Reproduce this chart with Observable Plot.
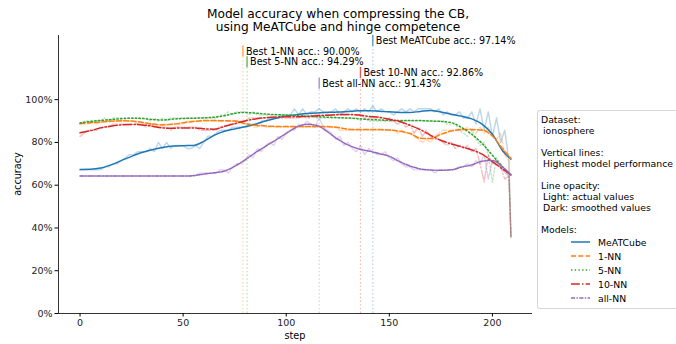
<!DOCTYPE html>
<html>
<head>
<meta charset="utf-8">
<script src="https://cdn.jsdelivr.net/npm/d3@7"></script>
<script src="https://cdn.jsdelivr.net/npm/@observablehq/plot@0.6"></script>
<style>
html,body{margin:0;padding:0;background:#fff;}
#fig{position:relative;width:676px;height:344px;overflow:hidden;font-family:"DejaVu Sans",sans-serif;color:#000;}
#chart{position:absolute;left:0;top:0;}
.t{position:absolute;white-space:pre;font-size:9.7px;line-height:11px;color:#000;}
.lg{font-size:9.3px;}
#title{position:absolute;left:0;top:8px;width:676px;text-align:center;font-size:12.2px;line-height:13px;}
#legend{position:absolute;left:537px;top:110px;width:170px;height:197px;border:1px solid rgba(204,204,204,0.8);border-radius:3px;background:rgba(255,255,255,0.8);}
#ylab{left:17px;top:174px;transform:translate(-50%,-50%) rotate(-90deg);}
</style>
</head>
<body>
<div id="fig">
  <div id="chart"></div>
  <div id="title">Model accuracy when compressing the CB,<br>using MeATCube and hinge competence</div>
  <div class="t" style="left:0;width:590px;text-align:center;top:330px;">step</div>
  <div class="t" id="ylab">accuracy</div>
  <div id="legend"></div>
</div>
<script>
// ---------- data ----------
const models = ["MeATCube", "1-NN", "5-NN", "10-NN", "all-NN"];
const colors = ["#1f77b4", "#ff7f0e", "#2ca02c", "#d62728", "#9467bd"];
const dashes = [null, "5.1,2.2", "1.4,2.3", "8.8,2.2,1.4,2.2", "4.1,1.4,1.4,1.4"];

const xTicks = [0, 50, 100, 150, 200];
const yTicks = [0, 0.2, 0.4, 0.6, 0.8, 1.0];

// best accuracy annotations
const bestStep = [142, 79, 81, 136, 116];
const bestAcc = [97.14, 90.00, 94.29, 92.86, 91.43];

// smoothed values (%, dark lines)
const smoothSteps = [0,5,10,15,20,25,30,35,40,45,50,55,60,65,70,75,80,85,90,95,100,105,110,115,120,125,130,135,140,145,150,155,160,165,170,175,180,185,190,195,200,205,209];
const meatSmooth = [67.3,67.4,68.0,69.5,71.5,73.5,75.3,76.6,77.6,78.3,78.5,78.6,80.5,83.3,85.2,86.3,87.3,88.5,90.0,91.3,92.3,93.0,93.5,93.8,94.0,94.2,94.5,94.8,94.8,94.6,94.3,94.0,94.0,94.5,94.9,94.2,93.2,92.3,91.0,88.6,83.8,76.0,72.2];
const nn1Smooth = [88.9,89.2,89.5,89.9,90.1,90.0,89.4,88.6,88.2,88.5,89.2,89.8,90.2,90.2,90.1,90.0,88.8,88.0,87.7,87.5,87.5,87.5,87.5,87.5,87.4,87.0,86.2,86.0,86.0,86.0,85.8,85.2,84.2,82.0,81.8,83.8,85.3,86.0,86.0,85.8,83.0,77.0,72.5];
const nn5Smooth = [89.1,89.8,90.3,90.7,91.1,91.3,91.2,90.7,90.5,90.9,91.2,91.3,91.5,91.8,92.5,93.6,94.0,93.7,93.3,93.0,92.8,92.5,92.2,92.0,91.8,91.6,91.4,91.1,90.7,90.5,90.3,90.2,90.2,90.2,90.0,89.8,89.3,87.0,83.8,79.5,74.0,68.5,64.8];
const nn10Smooth = [84.5,85.5,86.8,87.6,88.2,88.4,88.2,87.6,86.8,86.6,86.8,86.8,86.4,86.2,87.5,88.8,90.0,91.0,91.6,91.9,92.0,92.0,92.2,92.5,92.7,93.0,93.1,92.8,92.2,91.8,90.8,89.8,88.0,86.0,83.3,81.0,79.3,78.0,76.5,74.5,71.0,67.5,64.8];
const allSmooth = [64.3,64.3,64.3,64.3,64.3,64.3,64.3,64.3,64.3,64.3,64.3,64.5,65.2,65.8,66.6,68.8,71.8,75.2,78.2,81.2,84.2,87.2,88.5,87.9,85.0,81.5,78.8,77.0,76.0,74.8,73.5,71.0,69.0,67.6,67.1,67.0,67.2,68.5,69.5,71.2,71.6,68.5,64.8];

// actual values (correct answers out of 70 test cases, light lines)
const testSize = 70;
const actualSteps = [0,2,4,6,8,10,12,14,16,18,20,22,24,26,28,30,32,34,36,38,40,42,44,46,48,50,52,54,56,58,60,62,64,66,68,70,72,74,76,78,80,82,84,86,88,90,92,94,96,98,100,102,104,106,108,110,112,114,116,118,120,122,124,126,128,130,132,134,136,138,140,142,144,146,148,150,152,154,156,158,160,162,164,166,168,170,172,174,176,178,180,182,184,186,188,190,192,194,196,198,200,202,204,206,208,209];
const meatActual = [47,47,47,47,47,47,48,48,49,49, 50,51,52,52,53,53,53,54,53,56, 54,56,54,55,55,55,54,54,55,54, 56,58,58,59,60,60,60,61,61,61, 61,62,62,62,63,63,64,64,64,65, 65,65,67,65,67,65,66,66,67,66, 66,66,67,65,66,67,66,67,66,67, 66,68,66,67,66,66,65,66,67,66, 67,66,67,67,67,67,66,67,65,66, 65,65,66,64,64,66,62,67,60,66, 58,64,56,60,50,25];
const nn1Actual = [62,62,62,63,62,63,63,63,63,63, 63,63,63,63,62,62,62,62,62,61, 62,62,62,62,62,62,63,63,63,63, 63,63,63,63,63,63,63,63,63,63, 62,62,61,61,62,61,61,61,61,61, 61,61,61,61,61,61,61,61,61,61, 61,61,61,60,60,60,60,60,60,60, 60,60,60,60,60,60,60,59,60,59, 59,58,57,56,57,56,58,59,60,60, 60,60,60,60,61,60,59,61,59,61, 58,57,59,52,50,25];
const nn5Actual = [62,63,63,63,63,63,64,63,64,64, 64,64,64,64,64,64,64,63,64,63, 64,63,64,64,64,64,64,64,64,64, 64,64,64,64,65,65,66,65,66,66, 66,65,66,65,65,65,65,65,65,65, 65,65,65,64,65,64,65,64,64,64, 64,64,64,64,64,64,64,64,63,64, 63,63,63,63,63,63,63,63,63,63, 63,63,63,63,63,63,63,63,63,62, 62,62,60,59,58,60,57,55,56,52, 43,51,49,47,45,25];
const nn10Actual = [58,59,60,60,60,61,61,61,62,62, 62,62,62,62,62,62,61,62,61,61, 61,61,60,61,61,61,61,61,61,60, 60,60,60,60,61,61,62,62,62,63, 63,64,64,64,64,64,64,64,64,64, 64,64,64,64,65,64,64,65,65,65, 65,65,65,65,65,65,65,65,65,64, 64,64,64,64,63,64,63,62,63,61, 62,59,61,58,60,58,57,57,56,55, 56,54,55,54,55,53,54,49,43,52, 49,50,48,44,45,25];
const allActual = [45,45,45,45,45,45,45,45,45,45, 45,45,45,45,45,45,45,45,45,45, 45,45,45,45,45,45,45,45,45,46, 46,46,46,46,47,47,46,48,49,49, 50,52,51,54,53,55,56,55,58,57, 59,60,60,62,61,63,62,61,64,61, 60,59,57,58,55,56,54,53,55,52, 54,53,52,52,53,51,50,51,49,48, 48,47,47,47,47,47,46,47,47,47, 47,47,48,48,49,48,50,49,52,44, 50,49,48,46,45,25];

// ---------- build tables ----------
const smoothSeries = [meatSmooth, nn1Smooth, nn5Smooth, nn10Smooth, allSmooth];
const actualSeries = [meatActual, nn1Actual, nn5Actual, nn10Actual, allActual];

const lightMarks = models.map((m, i) =>
  Plot.line(actualSteps.map((s, j) => ({step: s, acc: actualSeries[i][j] / testSize})), {
    x: "step", y: "acc", stroke: colors[i], strokeOpacity: 0.3, strokeWidth: 1.4,
    strokeDasharray: dashes[i], curve: "linear"
  }));
const darkMarks = models.map((m, i) =>
  Plot.line(smoothSteps.map((s, j) => ({step: s, acc: smoothSeries[i][j] / 100})), {
    x: "step", y: "acc", stroke: colors[i], strokeWidth: 1.5,
    strokeDasharray: dashes[i], curve: "monotone-x"
  }));

const annot = models.map((m, i) => ({
  model: m, step: bestStep[i], acc: bestAcc[i], ly: 1.275 - 0.05 * i
}));

const chart = Plot.plot({
  width: 676, height: 344,
  marginLeft: 58, marginRight: 144, marginTop: 35, marginBottom: 31,
  style: {fontFamily: "DejaVu Sans, sans-serif", fontSize: "9.5px", color: "#000", background: "transparent", overflow: "visible"},
  x: {domain: [-10.45, 219.45]},
  y: {domain: [0, 1.3]},
  color: {domain: models, range: colors},
  marks: [
    Plot.ruleX(annot, {x: "step", y1: 0, y2: d => d.ly - 0.026, stroke: "model", strokeOpacity: 0.35, strokeWidth: 1.2, strokeDasharray: "1.4,2.3"}),
    ...lightMarks,
    ...darkMarks,
    Plot.ruleX(annot, {x: "step", y1: d => d.ly - 0.026, y2: d => d.ly + 0.026, stroke: "model", strokeOpacity: 0.75, strokeWidth: 1.4}),
    Plot.text(annot, {x: "step", y: "ly", dx: 3, textAnchor: "start", fill: "#000", fontSize: 9.6,
      text: d => `Best ${d.model} acc.: ${d.acc.toFixed(2)}%`}),
    Plot.ruleX([-10.45], {stroke: "#000", strokeWidth: 0.8}),
    Plot.ruleY([0], {stroke: "#000", strokeWidth: 0.8}),
    Plot.axisX({ticks: xTicks, tickSize: 3.5, tickPadding: 2.5, label: null, fill: "#222"}),
    Plot.axisY({ticks: yTicks, tickSize: 3.5, tickPadding: 2.5, label: null, tickFormat: d3.format(".0%"), fill: "#222"})
  ]
});
document.getElementById("chart").appendChild(chart);

// ---------- legend ----------
const legendLines = [
  ["Dataset:", 0, 119.5], ["ionosphere", 2, 130.5],
  ["Vertical lines:", 0, 152.5], ["Highest model performance", 2, 163.5],
  ["Line opacity:", 0, 185.5], ["Light: actual values", 2, 196.5], ["Dark: smoothed values", 2, 207.5],
  ["Models:", 0, 229.5]
];
const fig = document.getElementById("fig");
legendLines.forEach(([txt, ind, cy]) => {
  const d = document.createElement("div");
  d.className = "t lg";
  d.style.left = (541 + ind) + "px";
  d.style.top = (cy - 5.5) + "px";
  d.textContent = txt;
  fig.appendChild(d);
});
const legendY = [242, 256, 270, 284, 298];
const svgNS = "http://www.w3.org/2000/svg";
const lsvg = document.createElementNS(svgNS, "svg");
lsvg.setAttribute("width", 676); lsvg.setAttribute("height", 344);
lsvg.style.position = "absolute"; lsvg.style.left = "0"; lsvg.style.top = "0";
models.forEach((m, i) => {
  const ln = document.createElementNS(svgNS, "line");
  ln.setAttribute("x1", 571); ln.setAttribute("x2", 590);
  ln.setAttribute("y1", legendY[i]); ln.setAttribute("y2", legendY[i]);
  ln.setAttribute("stroke", colors[i]); ln.setAttribute("stroke-width", 1.5);
  if (dashes[i]) ln.setAttribute("stroke-dasharray", dashes[i]);
  lsvg.appendChild(ln);
  const d = document.createElement("div");
  d.className = "t lg";
  d.style.left = "598px";
  d.style.top = (legendY[i] - 5.5) + "px";
  d.textContent = m;
  fig.appendChild(d);
});
fig.appendChild(lsvg);
</script>
</body>
</html>
